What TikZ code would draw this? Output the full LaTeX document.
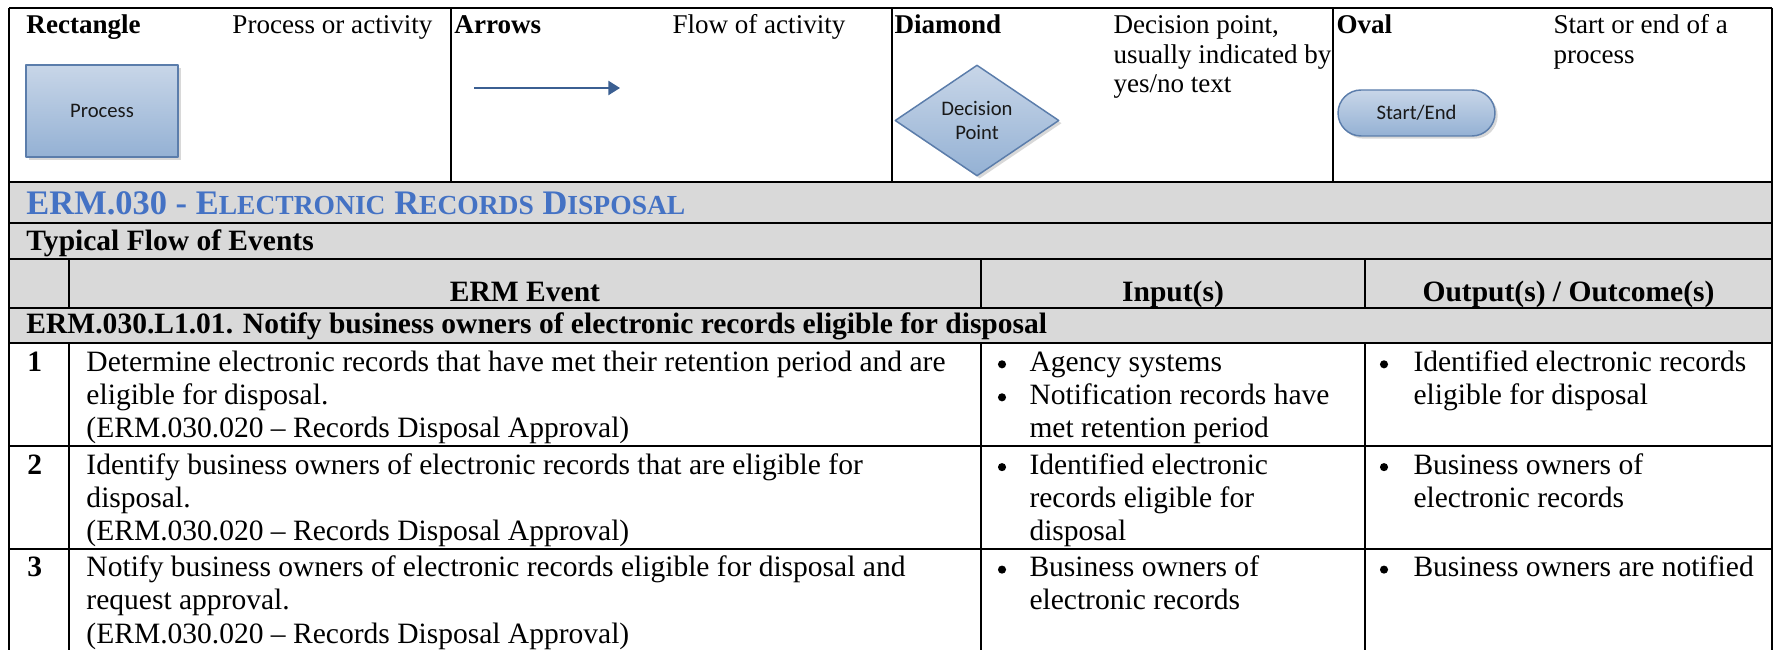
\documentclass[tikz,border=0pt]{standalone}
\usepackage{fontspec}
\setmainfont{Liberation Serif}
\newfontfamily\shapefont{Carlito}
\usetikzlibrary{positioning}
\usetikzlibrary{shapes.geometric}
\usetikzlibrary{shapes.misc}
\usetikzlibrary{shadows}
\usetikzlibrary{arrows.meta}

\definecolor{rowgray}{HTML}{D9D9D9}
\definecolor{titleblue}{HTML}{4472C4}
\definecolor{shapetop}{HTML}{C8D6E8}
\definecolor{shapebot}{HTML}{94B1D4}
\definecolor{shapeline}{HTML}{5B7DAB}
\definecolor{arrowblue}{HTML}{3B5F92}

% fake small caps as Word sets them
\newcommand{\smcap}[1]{{\fontsize{11.2}{13}\selectfont #1}}

\tikzset{
  gridline/.style={line width=0.9pt},
  flowshape/.style={draw=shapeline, line width=0.6pt, top color=shapetop, bottom color=shapebot,
    drop shadow={shadow xshift=1.1pt, shadow yshift=-1.1pt, fill=black!30},
    font=\shapefont\fontsize{8.4}{10}\selectfont, align=center, inner sep=0pt, text=black!90},
  flowarrow/.style={draw=arrowblue, line width=0.8pt, -{Triangle[length=4.7pt,width=5.7pt]}},
  lbl/.style={anchor=base west, inner sep=0pt, font=\fontsize{11}{12}\selectfont\bfseries},
  dsc/.style={anchor=base west, inner sep=0pt, font=\fontsize{11}{12}\selectfont},
  body/.style={anchor=base west, inner sep=0pt, font=\fontsize{12}{14}\selectfont},
  bodyb/.style={anchor=base west, inner sep=0pt, font=\fontsize{12}{14}\selectfont\bfseries},
  hdr/.style={anchor=base, inner sep=0pt, font=\fontsize{12}{14}\selectfont\bfseries},
  dot/.style={circle, fill=black, inner sep=0pt, minimum size=3.3pt, yshift=3pt},
}

\begin{document}
\begin{tikzpicture}[x=0.4065pt, y=-0.4065pt, line join=round]
  \useasboundingbox (0,0) rectangle (1779,650);
  % gray band of the table head
  \fill[rowgray] (9,182) rectangle (1772,343);
  % rules
  \foreach \y in {8,182,223,259,308,343,446,549}{
    \draw[gridline] (9,\y) -- (1772,\y);
  }
  \draw[gridline] (9,8) -- (9,650);
  \draw[gridline] (1772,8) -- (1772,650);
  \foreach \x in {451,892,1333}{
    \draw[gridline] (\x,8) -- (\x,182);
  }
  \foreach \x in {69,981,1365}{
    \draw[gridline] (\x,259) -- (\x,308);
    \draw[gridline] (\x,343) -- (\x,650);
  }

  % legend
  \node[lbl] (lbRect) at (26,34) {Rectangle};
  \node[dsc] (dsRect) at (232,34) {Process or activity};
  \node[flowshape, minimum width=61.8pt, minimum height=37.4pt] (proc) at (102,111) {Process};

  \node[lbl] (lbArrow) at (454,34) {Arrows};
  \node[dsc] (dsArrow) at (672,34) {Flow of activity};
  \coordinate (arrS) at (474,88);
  \coordinate (arrE) at (620,88);
  \draw[flowarrow] (arrS) -- (arrE);

  \node[lbl] (lbDiam) at (894,34) {Diamond};
  \foreach \t [count=\i from 0] in {{Decision point,}, {usually indicated by}, {yes/no text}}{
    \node[dsc] (dsDiam\i) at (1113,34+29.5*\i) {\t};
  }
  \node[flowshape, diamond, aspect=1.5, minimum width=66.7pt, minimum height=45.1pt] (dec) at (977,120.5) {Decision\\Point};

  \node[lbl] (lbOval) at (1336,34) {Oval};
  \foreach \t [count=\i from 0] in {{Start or end of a}, {process}}{
    \node[dsc] (dsOval\i) at (1553,34+29.5*\i) {\t};
  }
  \node[flowshape, rounded rectangle, minimum width=63.8pt, minimum height=18.7pt] (term) at (1416.5,113) {Start/End};

  % table head
  \node[anchor=base west, inner sep=0pt, text=titleblue, font=\fontsize{14}{16}\selectfont\bfseries] (title) at (26,215)
    {ERM.030 - E\smcap{LECTRONIC} R\smcap{ECORDS} D\smcap{ISPOSAL}};
  \node[bodyb] (flowHdr) at (26,251) {Typical Flow of Events};
  \node[hdr] (colEvent) at (525,302) {ERM Event};
  \node[hdr] (colIn) at (1173,302) {Input(s)};
  \node[hdr] (colOut) at (1568.5,302) {Output(s) / Outcome(s)};
  \node[bodyb] (stepHdr) at (26,333.3) {ERM.030.L1.01. Notify business owners of electronic records eligible for disposal};

  % step 1
  \node[bodyb] (num1) at (27,371.7) {1};
  \foreach \t [count=\i from 0] in {{Determine electronic records that have met their retention period and are},
      {eligible for disposal.}, {(ERM.030.020 -- Records Disposal Approval)}}{
    \node[body] (ev1\i) at (86,371.7+33*\i) {\t};
  }
  \node[dot] (inA1) at (1002,371.7) {};
  \node[dot] (inB1) at (1002,404.7) {};
  \foreach \t [count=\i from 0] in {{Agency systems}, {Notification records have}, {met retention period}}{
    \node[body] (in1\i) at (1029,371.7+33*\i) {\t};
  }
  \node[dot] (outA1) at (1384,371.7) {};
  \foreach \t [count=\i from 0] in {{Identified electronic records}, {eligible for disposal}}{
    \node[body] (out1\i) at (1413,371.7+33*\i) {\t};
  }

  % step 2
  \node[bodyb] (num2) at (27,474.5) {2};
  \foreach \t [count=\i from 0] in {{Identify business owners of electronic records that are eligible for},
      {disposal.}, {(ERM.030.020 -- Records Disposal Approval)}}{
    \node[body] (ev2\i) at (86,474.5+33*\i) {\t};
  }
  \node[dot] (inA2) at (1002,474.5) {};
  \foreach \t [count=\i from 0] in {{Identified electronic}, {records eligible for}, {disposal}}{
    \node[body] (in2\i) at (1029,474.5+33*\i) {\t};
  }
  \node[dot] (outA2) at (1384,474.5) {};
  \foreach \t [count=\i from 0] in {{Business owners of}, {electronic records}}{
    \node[body] (out2\i) at (1413,474.5+33*\i) {\t};
  }

  % step 3
  \node[bodyb] (num3) at (27,577) {3};
  \foreach \t [count=\i from 0] in {{Notify business owners of electronic records eligible for disposal and},
      {request approval.}, {(ERM.030.020 -- Records Disposal Approval)}}{
    \node[body] (ev3\i) at (86,577+33*\i) {\t};
  }
  \node[dot] (inA3) at (1002,577) {};
  \foreach \t [count=\i from 0] in {{Business owners of}, {electronic records}}{
    \node[body] (in3\i) at (1029,577+33*\i) {\t};
  }
  \node[dot] (outA3) at (1384,577) {};
  \node[body] (out30) at (1413,577) {Business owners are notified};
\end{tikzpicture}
\end{document}
